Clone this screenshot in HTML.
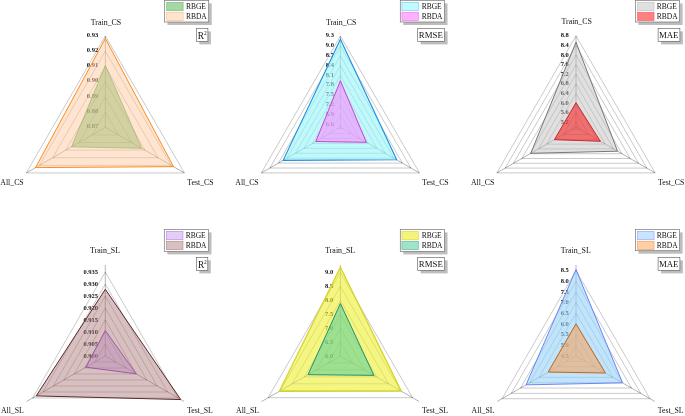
<!DOCTYPE html><html><head><meta charset="utf-8"><title>Radar charts</title><style>html,body{margin:0;padding:0;background:#fff}svg{display:block}text{font-family:"Liberation Serif","Times New Roman",serif;fill:#111}</style></head><body>
<svg width="685" height="416" viewBox="0 0 685 416">
<rect width="685" height="416" fill="#fff"/>
<g>
<polygon points="105.35,112.08 118.53,134.91 92.17,134.91" fill="none" stroke="#000" stroke-width="0.45" stroke-opacity="0.48"/>
<polygon points="105.35,96.87 131.71,142.52 78.99,142.52" fill="none" stroke="#000" stroke-width="0.45" stroke-opacity="0.48"/>
<polygon points="105.35,81.65 144.88,150.12 65.82,150.12" fill="none" stroke="#000" stroke-width="0.45" stroke-opacity="0.48"/>
<polygon points="105.35,66.43 158.06,157.73 52.64,157.73" fill="none" stroke="#000" stroke-width="0.45" stroke-opacity="0.48"/>
<polygon points="105.35,51.22 171.24,165.34 39.46,165.34" fill="none" stroke="#000" stroke-width="0.45" stroke-opacity="0.48"/>
<polygon points="105.35,36.00 184.42,172.95 26.28,172.95" fill="none" stroke="#000" stroke-width="0.45" stroke-opacity="0.48"/>
<line x1="105.35" y1="127.30" x2="105.35" y2="36.00" stroke="#000" stroke-width="0.5" stroke-opacity="0.6"/>
<line x1="105.35" y1="127.30" x2="184.42" y2="172.95" stroke="#000" stroke-width="0.5" stroke-opacity="0.6"/>
<line x1="105.35" y1="127.30" x2="26.28" y2="172.95" stroke="#000" stroke-width="0.5" stroke-opacity="0.6"/>
<text x="98.15" y="128.10" font-size="6.5" font-weight="bold" text-anchor="end">0.87</text>
<text x="98.15" y="112.88" font-size="6.5" font-weight="bold" text-anchor="end">0.88</text>
<text x="98.15" y="97.67" font-size="6.5" font-weight="bold" text-anchor="end">0.89</text>
<text x="98.15" y="82.45" font-size="6.5" font-weight="bold" text-anchor="end">0.90</text>
<text x="98.15" y="67.23" font-size="6.5" font-weight="bold" text-anchor="end">0.91</text>
<text x="98.15" y="52.02" font-size="6.5" font-weight="bold" text-anchor="end">0.92</text>
<text x="98.15" y="36.80" font-size="6.5" font-weight="bold" text-anchor="end">0.93</text>
<polygon points="105.35,65.50 141.72,148.30 71.49,146.85" fill="rgba(90,180,90,0.55)" stroke="#5a9e50" stroke-width="0.80" stroke-linejoin="miter"/>
<polygon points="105.35,38.50 173.51,166.65 35.55,167.60" fill="rgba(255,203,159,0.5)" stroke="#ff8c1a" stroke-width="1.00" stroke-linejoin="miter"/>
<text x="106.05" y="24.50" font-size="7.9" text-anchor="middle">Train_CS</text>
<text x="187.32" y="184.75" font-size="7.8" text-anchor="start">Test_CS</text>
<text x="23.68" y="184.75" font-size="7.8" text-anchor="end">All_CS</text>
<rect x="167.50" y="3.40" width="44.20" height="21.60" fill="#bdbdbd"/>
<rect x="164.50" y="0.40" width="44.20" height="21.60" fill="#fff" stroke="#777" stroke-width="0.7"/>
<rect x="166.70" y="2.40" width="16.4" height="8.3" fill="#a5d6a5" stroke="#7fbf7f" stroke-width="0.7"/>
<text x="185.90" y="9.20" font-size="7.5">RBGE</text>
<rect x="166.70" y="12.30" width="16.4" height="8.3" fill="#ffe5d0" stroke="#ffc08a" stroke-width="0.7"/>
<text x="185.90" y="19.10" font-size="7.5">RBDA</text>
<rect x="199.30" y="31.40" width="11.60" height="13.00" fill="#bdbdbd"/>
<rect x="196.30" y="28.40" width="11.60" height="13.00" fill="#fff" stroke="#555" stroke-width="0.6"/>
<text x="197.80" y="38.60" font-size="9.3">R<tspan font-size="5.4" dy="-3.9">2</tspan></text>
</g>
<g>
<polygon points="340.40,124.65 342.69,128.62 338.11,128.62" fill="none" stroke="#000" stroke-width="0.45" stroke-opacity="0.48"/>
<polygon points="340.40,114.80 351.23,133.55 329.57,133.55" fill="none" stroke="#000" stroke-width="0.45" stroke-opacity="0.48"/>
<polygon points="340.40,104.95 359.76,138.47 321.04,138.47" fill="none" stroke="#000" stroke-width="0.45" stroke-opacity="0.48"/>
<polygon points="340.40,95.10 368.29,143.40 312.51,143.40" fill="none" stroke="#000" stroke-width="0.45" stroke-opacity="0.48"/>
<polygon points="340.40,85.25 376.82,148.32 303.98,148.32" fill="none" stroke="#000" stroke-width="0.45" stroke-opacity="0.48"/>
<polygon points="340.40,75.40 385.35,153.25 295.45,153.25" fill="none" stroke="#000" stroke-width="0.45" stroke-opacity="0.48"/>
<polygon points="340.40,65.55 393.88,158.17 286.92,158.17" fill="none" stroke="#000" stroke-width="0.45" stroke-opacity="0.48"/>
<polygon points="340.40,55.70 402.41,163.10 278.39,163.10" fill="none" stroke="#000" stroke-width="0.45" stroke-opacity="0.48"/>
<polygon points="340.40,45.85 410.94,168.02 269.86,168.02" fill="none" stroke="#000" stroke-width="0.45" stroke-opacity="0.48"/>
<polygon points="340.40,36.00 419.47,172.95 261.33,172.95" fill="none" stroke="#000" stroke-width="0.45" stroke-opacity="0.48"/>
<line x1="340.40" y1="127.30" x2="340.40" y2="36.00" stroke="#000" stroke-width="0.5" stroke-opacity="0.6"/>
<line x1="340.40" y1="127.30" x2="419.47" y2="172.95" stroke="#000" stroke-width="0.5" stroke-opacity="0.6"/>
<line x1="340.40" y1="127.30" x2="261.33" y2="172.95" stroke="#000" stroke-width="0.5" stroke-opacity="0.6"/>
<text x="333.90" y="125.75" font-size="6.5" font-weight="bold" text-anchor="end">6.6</text>
<text x="333.90" y="115.90" font-size="6.5" font-weight="bold" text-anchor="end">6.9</text>
<text x="333.90" y="106.05" font-size="6.5" font-weight="bold" text-anchor="end">7.2</text>
<text x="333.90" y="96.20" font-size="6.5" font-weight="bold" text-anchor="end">7.5</text>
<text x="333.90" y="86.35" font-size="6.5" font-weight="bold" text-anchor="end">7.8</text>
<text x="333.90" y="76.50" font-size="6.5" font-weight="bold" text-anchor="end">8.1</text>
<text x="333.90" y="66.65" font-size="6.5" font-weight="bold" text-anchor="end">8.4</text>
<text x="333.90" y="56.80" font-size="6.5" font-weight="bold" text-anchor="end">8.7</text>
<text x="333.90" y="46.95" font-size="6.5" font-weight="bold" text-anchor="end">9.0</text>
<text x="333.90" y="37.10" font-size="6.5" font-weight="bold" text-anchor="end">9.3</text>
<polygon points="340.40,39.30 396.69,159.80 283.16,160.35" fill="rgba(150,245,250,0.6)" stroke="#1e8fe0" stroke-width="1.10" stroke-linejoin="miter"/>
<polygon points="340.40,80.70 366.38,142.30 315.80,141.50" fill="rgba(255,130,255,0.55)" stroke="#d040d0" stroke-width="1.00" stroke-linejoin="miter"/>
<text x="341.10" y="24.50" font-size="7.9" text-anchor="middle">Train_CS</text>
<text x="422.37" y="184.75" font-size="7.8" text-anchor="start">Test_CS</text>
<text x="258.73" y="184.75" font-size="7.8" text-anchor="end">All_CS</text>
<rect x="403.30" y="3.40" width="44.20" height="21.60" fill="#bdbdbd"/>
<rect x="400.30" y="0.40" width="44.20" height="21.60" fill="#fff" stroke="#777" stroke-width="0.7"/>
<rect x="401.90" y="2.40" width="16.4" height="8.3" fill="#bffbff" stroke="#7fd0f0" stroke-width="0.7"/>
<text x="421.70" y="9.20" font-size="7.5">RBGE</text>
<rect x="401.90" y="12.30" width="16.4" height="8.3" fill="#ffb0ff" stroke="#f080f0" stroke-width="0.7"/>
<text x="421.70" y="19.10" font-size="7.5">RBDA</text>
<rect x="420.70" y="31.40" width="26.90" height="13.00" fill="#bdbdbd"/>
<rect x="417.70" y="28.40" width="26.90" height="13.00" fill="#fff" stroke="#555" stroke-width="0.6"/>
<text x="430.85" y="37.70" font-size="8.8" text-anchor="middle">RMSE</text>
</g>
<g>
<polygon points="576.00,122.20 580.33,129.70 571.67,129.70" fill="none" stroke="#000" stroke-width="0.45" stroke-opacity="0.48"/>
<polygon points="576.00,112.60 588.64,134.50 563.36,134.50" fill="none" stroke="#000" stroke-width="0.45" stroke-opacity="0.48"/>
<polygon points="576.00,103.00 596.96,139.30 555.04,139.30" fill="none" stroke="#000" stroke-width="0.45" stroke-opacity="0.48"/>
<polygon points="576.00,93.40 605.27,144.10 546.73,144.10" fill="none" stroke="#000" stroke-width="0.45" stroke-opacity="0.48"/>
<polygon points="576.00,83.80 613.59,148.90 538.41,148.90" fill="none" stroke="#000" stroke-width="0.45" stroke-opacity="0.48"/>
<polygon points="576.00,74.20 621.90,153.70 530.10,153.70" fill="none" stroke="#000" stroke-width="0.45" stroke-opacity="0.48"/>
<polygon points="576.00,64.60 630.21,158.50 521.79,158.50" fill="none" stroke="#000" stroke-width="0.45" stroke-opacity="0.48"/>
<polygon points="576.00,55.00 638.53,163.30 513.47,163.30" fill="none" stroke="#000" stroke-width="0.45" stroke-opacity="0.48"/>
<polygon points="576.00,45.40 646.84,168.10 505.16,168.10" fill="none" stroke="#000" stroke-width="0.45" stroke-opacity="0.48"/>
<polygon points="576.00,35.80 655.15,172.90 496.85,172.90" fill="none" stroke="#000" stroke-width="0.45" stroke-opacity="0.48"/>
<line x1="576.00" y1="127.20" x2="576.00" y2="35.90" stroke="#000" stroke-width="0.5" stroke-opacity="0.6"/>
<line x1="576.00" y1="127.20" x2="655.07" y2="172.85" stroke="#000" stroke-width="0.5" stroke-opacity="0.6"/>
<line x1="576.00" y1="127.20" x2="496.93" y2="172.85" stroke="#000" stroke-width="0.5" stroke-opacity="0.6"/>
<text x="568.80" y="123.80" font-size="6.5" font-weight="bold" text-anchor="end">5.2</text>
<text x="568.80" y="114.20" font-size="6.5" font-weight="bold" text-anchor="end">5.6</text>
<text x="568.80" y="104.60" font-size="6.5" font-weight="bold" text-anchor="end">6.0</text>
<text x="568.80" y="95.00" font-size="6.5" font-weight="bold" text-anchor="end">6.4</text>
<text x="568.80" y="85.40" font-size="6.5" font-weight="bold" text-anchor="end">6.8</text>
<text x="568.80" y="75.80" font-size="6.5" font-weight="bold" text-anchor="end">7.2</text>
<text x="568.80" y="66.20" font-size="6.5" font-weight="bold" text-anchor="end">7.6</text>
<text x="568.80" y="56.60" font-size="6.5" font-weight="bold" text-anchor="end">8.0</text>
<text x="568.80" y="47.00" font-size="6.5" font-weight="bold" text-anchor="end">8.4</text>
<text x="568.80" y="37.40" font-size="6.5" font-weight="bold" text-anchor="end">8.8</text>
<polygon points="576.00,42.20 617.57,151.20 530.79,153.30" fill="rgba(190,190,190,0.48)" stroke="#777" stroke-width="1.00" stroke-linejoin="miter"/>
<polygon points="576.00,102.70 600.42,141.30 554.35,139.70" fill="rgba(246,37,37,0.6)" stroke="#c82c30" stroke-width="1.00" stroke-linejoin="miter"/>
<text x="576.70" y="24.40" font-size="7.9" text-anchor="middle">Train_CS</text>
<text x="657.97" y="184.65" font-size="7.8" text-anchor="start">Test_CS</text>
<text x="494.33" y="184.65" font-size="7.8" text-anchor="end">All_CS</text>
<rect x="638.40" y="3.40" width="44.20" height="21.60" fill="#bdbdbd"/>
<rect x="635.40" y="0.40" width="44.20" height="21.60" fill="#fff" stroke="#777" stroke-width="0.7"/>
<rect x="637.60" y="2.40" width="16.4" height="8.3" fill="#e0e0e0" stroke="#c4c4c4" stroke-width="0.7"/>
<text x="656.80" y="9.20" font-size="7.5">RBGE</text>
<rect x="637.60" y="12.30" width="16.4" height="8.3" fill="#ff8080" stroke="#f06868" stroke-width="0.7"/>
<text x="656.80" y="19.10" font-size="7.5">RBDA</text>
<rect x="661.10" y="31.40" width="21.80" height="13.00" fill="#bdbdbd"/>
<rect x="658.10" y="28.40" width="21.80" height="13.00" fill="#fff" stroke="#555" stroke-width="0.6"/>
<text x="668.70" y="37.70" font-size="8.8" text-anchor="middle">MAE</text>
</g>
<g>
<polygon points="105.30,344.01 115.68,362.00 94.92,362.00" fill="none" stroke="#000" stroke-width="0.45" stroke-opacity="0.48"/>
<polygon points="105.30,332.02 126.07,367.99 84.53,367.99" fill="none" stroke="#000" stroke-width="0.45" stroke-opacity="0.48"/>
<polygon points="105.30,320.03 136.45,373.99 74.15,373.99" fill="none" stroke="#000" stroke-width="0.45" stroke-opacity="0.48"/>
<polygon points="105.30,308.04 146.83,379.98 63.77,379.98" fill="none" stroke="#000" stroke-width="0.45" stroke-opacity="0.48"/>
<polygon points="105.30,296.05 157.22,385.98 53.38,385.98" fill="none" stroke="#000" stroke-width="0.45" stroke-opacity="0.48"/>
<polygon points="105.30,284.06 167.60,391.97 43.00,391.97" fill="none" stroke="#000" stroke-width="0.45" stroke-opacity="0.48"/>
<polygon points="105.30,272.07 177.99,397.96 32.61,397.96" fill="none" stroke="#000" stroke-width="0.45" stroke-opacity="0.48"/>
<line x1="105.30" y1="356.00" x2="105.30" y2="265.00" stroke="#000" stroke-width="0.5" stroke-opacity="0.6"/>
<line x1="105.30" y1="356.00" x2="184.11" y2="401.50" stroke="#000" stroke-width="0.5" stroke-opacity="0.6"/>
<line x1="105.30" y1="356.00" x2="26.49" y2="401.50" stroke="#000" stroke-width="0.5" stroke-opacity="0.6"/>
<text x="98.10" y="357.80" font-size="6.5" font-weight="bold" text-anchor="end">0.900</text>
<text x="98.10" y="345.81" font-size="6.5" font-weight="bold" text-anchor="end">0.905</text>
<text x="98.10" y="333.82" font-size="6.5" font-weight="bold" text-anchor="end">0.910</text>
<text x="98.10" y="321.83" font-size="6.5" font-weight="bold" text-anchor="end">0.915</text>
<text x="98.10" y="309.84" font-size="6.5" font-weight="bold" text-anchor="end">0.920</text>
<text x="98.10" y="297.85" font-size="6.5" font-weight="bold" text-anchor="end">0.925</text>
<text x="98.10" y="285.86" font-size="6.5" font-weight="bold" text-anchor="end">0.930</text>
<text x="98.10" y="273.87" font-size="6.5" font-weight="bold" text-anchor="end">0.935</text>
<polygon points="105.30,330.50 136.22,373.85 85.90,367.20" fill="rgba(200,160,240,0.5)" stroke="#9640c8" stroke-width="1.00" stroke-linejoin="miter"/>
<polygon points="105.30,289.30 180.73,399.55 36.19,395.90" fill="rgba(170,115,115,0.45)" stroke="#5a2a2a" stroke-width="1.00" stroke-linejoin="miter"/>
<text x="105.10" y="253.30" font-size="7.9" text-anchor="middle">Train_SL</text>
<text x="187.01" y="413.40" font-size="7.8" text-anchor="start">Test_SL</text>
<text x="23.89" y="413.40" font-size="7.8" text-anchor="end">All_SL</text>
<rect x="167.30" y="232.40" width="44.20" height="22.00" fill="#bdbdbd"/>
<rect x="164.30" y="229.40" width="44.20" height="22.00" fill="#fff" stroke="#777" stroke-width="0.7"/>
<rect x="166.50" y="231.40" width="16.4" height="8.3" fill="#e2cff5" stroke="#c58be8" stroke-width="0.7"/>
<text x="185.70" y="238.20" font-size="7.5">RBGE</text>
<rect x="166.50" y="241.30" width="16.4" height="8.3" fill="#d8c0c0" stroke="#b09090" stroke-width="0.7"/>
<text x="185.70" y="248.10" font-size="7.5">RBDA</text>
<rect x="199.40" y="260.40" width="11.40" height="13.00" fill="#bdbdbd"/>
<rect x="196.40" y="257.40" width="11.40" height="13.00" fill="#fff" stroke="#555" stroke-width="0.6"/>
<text x="197.90" y="267.60" font-size="9.3">R<tspan font-size="5.4" dy="-3.9">2</tspan></text>
</g>
<g>
<polygon points="340.40,342.10 352.44,362.95 328.36,362.95" fill="none" stroke="#000" stroke-width="0.45" stroke-opacity="0.48"/>
<polygon points="340.40,328.20 364.48,369.90 316.32,369.90" fill="none" stroke="#000" stroke-width="0.45" stroke-opacity="0.48"/>
<polygon points="340.40,314.30 376.51,376.85 304.29,376.85" fill="none" stroke="#000" stroke-width="0.45" stroke-opacity="0.48"/>
<polygon points="340.40,300.40 388.55,383.80 292.25,383.80" fill="none" stroke="#000" stroke-width="0.45" stroke-opacity="0.48"/>
<polygon points="340.40,286.50 400.59,390.75 280.21,390.75" fill="none" stroke="#000" stroke-width="0.45" stroke-opacity="0.48"/>
<polygon points="340.40,272.60 412.63,397.70 268.17,397.70" fill="none" stroke="#000" stroke-width="0.45" stroke-opacity="0.48"/>
<line x1="340.40" y1="356.00" x2="340.40" y2="265.00" stroke="#000" stroke-width="0.5" stroke-opacity="0.6"/>
<line x1="340.40" y1="356.00" x2="419.21" y2="401.50" stroke="#000" stroke-width="0.5" stroke-opacity="0.6"/>
<line x1="340.40" y1="356.00" x2="261.59" y2="401.50" stroke="#000" stroke-width="0.5" stroke-opacity="0.6"/>
<text x="333.20" y="357.80" font-size="6.5" font-weight="bold" text-anchor="end">6.0</text>
<text x="333.20" y="343.90" font-size="6.5" font-weight="bold" text-anchor="end">6.5</text>
<text x="333.20" y="330.00" font-size="6.5" font-weight="bold" text-anchor="end">7.0</text>
<text x="333.20" y="316.10" font-size="6.5" font-weight="bold" text-anchor="end">7.5</text>
<text x="333.20" y="302.20" font-size="6.5" font-weight="bold" text-anchor="end">8.0</text>
<text x="333.20" y="288.30" font-size="6.5" font-weight="bold" text-anchor="end">8.5</text>
<text x="333.20" y="274.40" font-size="6.5" font-weight="bold" text-anchor="end">9.0</text>
<polygon points="340.40,267.20 401.28,391.15 279.35,391.25" fill="rgba(238,238,45,0.6)" stroke="#d4d430" stroke-width="1.30" stroke-linejoin="miter"/>
<polygon points="340.40,303.50 373.92,375.35 308.01,374.70" fill="rgba(86,207,157,0.56)" stroke="#209070" stroke-width="1.00" stroke-linejoin="miter"/>
<text x="340.20" y="253.30" font-size="7.9" text-anchor="middle">Train_SL</text>
<text x="422.11" y="413.40" font-size="7.8" text-anchor="start">Test_SL</text>
<text x="258.99" y="413.40" font-size="7.8" text-anchor="end">All_SL</text>
<rect x="403.30" y="232.40" width="44.20" height="22.00" fill="#bdbdbd"/>
<rect x="400.30" y="229.40" width="44.20" height="22.00" fill="#fff" stroke="#777" stroke-width="0.7"/>
<rect x="401.90" y="231.40" width="16.4" height="8.3" fill="#f4f47a" stroke="#dcdc50" stroke-width="0.7"/>
<text x="421.70" y="238.20" font-size="7.5">RBGE</text>
<rect x="401.90" y="241.30" width="16.4" height="8.3" fill="#a0e4c8" stroke="#60c0a0" stroke-width="0.7"/>
<text x="421.70" y="248.10" font-size="7.5">RBDA</text>
<rect x="420.70" y="260.40" width="26.90" height="13.00" fill="#bdbdbd"/>
<rect x="417.70" y="257.40" width="26.90" height="13.00" fill="#fff" stroke="#555" stroke-width="0.6"/>
<text x="430.85" y="266.70" font-size="8.8" text-anchor="middle">RMSE</text>
</g>
<g>
<polygon points="576.00,345.32 585.25,361.34 566.75,361.34" fill="none" stroke="#000" stroke-width="0.45" stroke-opacity="0.48"/>
<polygon points="576.00,334.64 594.50,366.68 557.50,366.68" fill="none" stroke="#000" stroke-width="0.45" stroke-opacity="0.48"/>
<polygon points="576.00,323.96 603.75,372.02 548.25,372.02" fill="none" stroke="#000" stroke-width="0.45" stroke-opacity="0.48"/>
<polygon points="576.00,313.28 613.00,377.36 539.00,377.36" fill="none" stroke="#000" stroke-width="0.45" stroke-opacity="0.48"/>
<polygon points="576.00,302.60 622.25,382.70 529.75,382.70" fill="none" stroke="#000" stroke-width="0.45" stroke-opacity="0.48"/>
<polygon points="576.00,291.92 631.49,388.04 520.51,388.04" fill="none" stroke="#000" stroke-width="0.45" stroke-opacity="0.48"/>
<polygon points="576.00,281.24 640.74,393.38 511.26,393.38" fill="none" stroke="#000" stroke-width="0.45" stroke-opacity="0.48"/>
<polygon points="576.00,270.56 649.99,398.72 502.01,398.72" fill="none" stroke="#000" stroke-width="0.45" stroke-opacity="0.48"/>
<line x1="576.00" y1="356.00" x2="576.00" y2="265.00" stroke="#000" stroke-width="0.5" stroke-opacity="0.6"/>
<line x1="576.00" y1="356.00" x2="654.81" y2="401.50" stroke="#000" stroke-width="0.5" stroke-opacity="0.6"/>
<line x1="576.00" y1="356.00" x2="497.19" y2="401.50" stroke="#000" stroke-width="0.5" stroke-opacity="0.6"/>
<text x="568.80" y="357.80" font-size="6.5" font-weight="bold" text-anchor="end">4.5</text>
<text x="568.80" y="347.12" font-size="6.5" font-weight="bold" text-anchor="end">5.0</text>
<text x="568.80" y="336.44" font-size="6.5" font-weight="bold" text-anchor="end">5.5</text>
<text x="568.80" y="325.76" font-size="6.5" font-weight="bold" text-anchor="end">6.0</text>
<text x="568.80" y="315.08" font-size="6.5" font-weight="bold" text-anchor="end">6.5</text>
<text x="568.80" y="304.40" font-size="6.5" font-weight="bold" text-anchor="end">7.0</text>
<text x="568.80" y="293.72" font-size="6.5" font-weight="bold" text-anchor="end">7.5</text>
<text x="568.80" y="283.04" font-size="6.5" font-weight="bold" text-anchor="end">8.0</text>
<text x="568.80" y="272.36" font-size="6.5" font-weight="bold" text-anchor="end">8.5</text>
<polygon points="576.00,269.50 622.51,382.85 526.03,384.85" fill="rgba(150,210,250,0.6)" stroke="#6078f5" stroke-width="0.90" stroke-linejoin="miter"/>
<polygon points="576.00,323.80 605.53,373.05 548.20,372.05" fill="rgba(240,170,110,0.65)" stroke="#b86a28" stroke-width="1.00" stroke-linejoin="miter"/>
<text x="575.80" y="253.30" font-size="7.9" text-anchor="middle">Train_SL</text>
<text x="657.71" y="413.40" font-size="7.8" text-anchor="start">Test_SL</text>
<text x="494.59" y="413.40" font-size="7.8" text-anchor="end">All_SL</text>
<rect x="638.40" y="232.40" width="44.20" height="21.30" fill="#bdbdbd"/>
<rect x="635.40" y="229.40" width="44.20" height="21.30" fill="#fff" stroke="#777" stroke-width="0.7"/>
<rect x="637.60" y="231.40" width="16.4" height="8.3" fill="#c8e4ff" stroke="#9aaaff" stroke-width="0.7"/>
<text x="656.80" y="238.20" font-size="7.5">RBGE</text>
<rect x="637.60" y="241.30" width="16.4" height="8.3" fill="#fdd0a8" stroke="#f0a468" stroke-width="0.7"/>
<text x="656.80" y="248.10" font-size="7.5">RBDA</text>
<rect x="661.10" y="260.40" width="21.80" height="13.00" fill="#bdbdbd"/>
<rect x="658.10" y="257.40" width="21.80" height="13.00" fill="#fff" stroke="#555" stroke-width="0.6"/>
<text x="668.70" y="266.70" font-size="8.8" text-anchor="middle">MAE</text>
</g>
</svg></body></html>
